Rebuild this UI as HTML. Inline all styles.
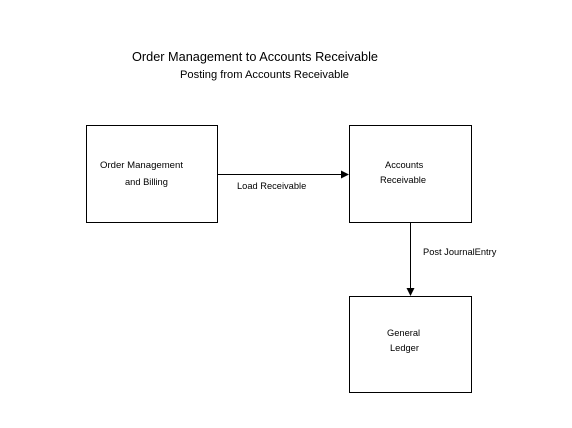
<!DOCTYPE html>
<html><head><style>
html,body{margin:0;padding:0;background:#fff;width:572px;height:428px;overflow:hidden}
</style></head><body>
<svg width="572" height="428" xmlns="http://www.w3.org/2000/svg" font-family="Liberation Sans, Arial, sans-serif" fill="#000">
<text x="132" y="61" font-size="13.3" textLength="246" lengthAdjust="spacingAndGlyphs">Order Management to Accounts Receivable</text>
<text x="180" y="78" font-size="11" textLength="169" lengthAdjust="spacingAndGlyphs">Posting from Accounts Receivable</text>
<g fill="none" stroke="#000" stroke-width="1">
<rect x="86.5" y="125.5" width="131" height="97"/>
<rect x="349.5" y="125.5" width="122" height="97"/>
<rect x="349.5" y="296.5" width="122" height="96"/>
<line x1="217" y1="174.5" x2="343" y2="174.5"/>
<line x1="410.5" y1="222" x2="410.5" y2="290"/>
</g>
<polygon points="349,174.5 341,170.5 341,178.5"/>
<polygon points="410.5,296 406.5,288 414.5,288"/>
<g font-size="9.3">
<text x="100" y="168" textLength="83" lengthAdjust="spacingAndGlyphs">Order Management</text>
<text x="125" y="185">and Billing</text>
<text x="385" y="168">Accounts</text>
<text x="380" y="183">Receivable</text>
<text x="387" y="336">General</text>
<text x="390" y="351">Ledger</text>
<text x="237" y="189">Load Receivable</text>
<text x="423" y="255">Post JournalEntry</text>
</g>
</svg>
</body></html>
